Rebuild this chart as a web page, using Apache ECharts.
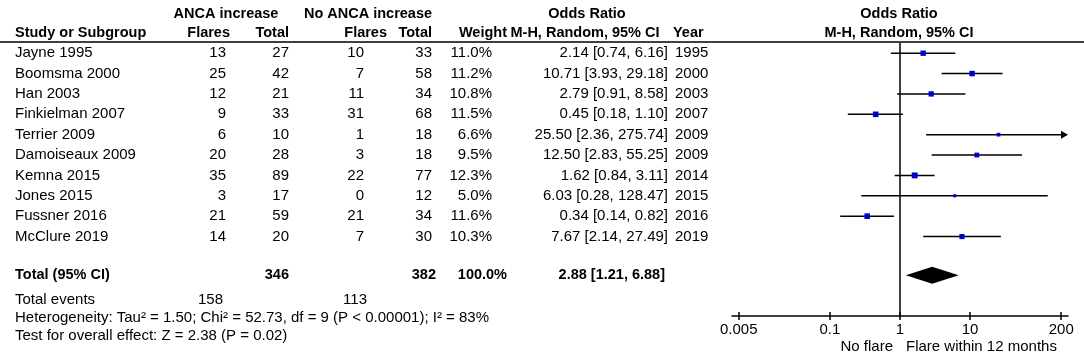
<!DOCTYPE html>
<html>
<head>
<meta charset="utf-8">
<script src="https://cdn.jsdelivr.net/npm/echarts@6/dist/echarts.min.js"></script>
<style>
  html, body { margin: 0; padding: 0; background: #fff; }
  #main { width: 1084px; height: 360px; }
</style>
</head>
<body>
<div id="main"></div>
<script>
// study rows
var studies = ['Jayne 1995', 'Boomsma 2000', 'Han 2003', 'Finkielman 2007', 'Terrier 2009',
  'Damoiseaux 2009', 'Kemna 2015', 'Jones 2015', 'Fussner 2016', 'McClure 2019'];
var ancaFlares = [13, 25, 12, 9, 6, 20, 35, 3, 21, 14];
var ancaTotal = [27, 42, 21, 33, 10, 28, 89, 17, 59, 20];
var noAncaFlares = [10, 7, 11, 31, 1, 3, 22, 0, 21, 7];
var noAncaTotal = [33, 58, 34, 68, 18, 18, 77, 12, 34, 30];
var weights = [11.0, 11.2, 10.8, 11.5, 6.6, 9.5, 12.3, 5.0, 11.6, 10.3];
var oddsRatio = [2.14, 10.71, 2.79, 0.45, 25.50, 12.50, 1.62, 6.03, 0.34, 7.67];
var ciLow = [0.74, 3.93, 0.91, 0.18, 2.36, 2.83, 0.84, 0.28, 0.14, 2.14];
var ciHigh = [6.16, 29.18, 8.58, 1.10, 275.74, 55.25, 3.11, 128.47, 0.82, 27.49];
var years = [1995, 2000, 2003, 2007, 2009, 2009, 2014, 2015, 2016, 2019];

// pooled
var totalAnca = 346;
var totalNoAnca = 382;
var totalWeight = 100.0;
var pooled = [2.88, 1.21, 6.88]; // OR, low, high
var eventsAnca = 158;
var eventsNoAnca = 113;
var heterogeneity = 'Heterogeneity: Tau² = 1.50; Chi² = 52.73, df = 9 (P < 0.00001); I² = 83%';
var overallTest = 'Test for overall effect: Z = 2.38 (P = 0.02)';

var tickValues = [0.005, 0.1, 1, 10, 200];
var axisMin = 0.004, axisMax = 250;

var FONT = 'Arial, "Liberation Sans", sans-serif';
var FS = 15;
var FSB = 14.5;
var log = Math.log10;
var tickPos = tickValues.map(log);
var totalRow = 10.9;

function fmt2(v) { return v.toFixed(2); }
function ciText(o, l, h) { return fmt2(o) + ' [' + fmt2(l) + ', ' + fmt2(h) + ']'; }

function txt(x, y, s, align, bold) {
  return {
    type: 'text', silent: true,
    style: {
      x: x, y: y, text: String(s), textAlign: align || 'left', textVerticalAlign: 'middle',
      fill: '#000', font: (bold ? 'bold ' + FSB : FS) + 'px ' + FONT
    }
  };
}

var chart = echarts.init(document.getElementById('main'));

function renderStudy(params, api) {
  var i = api.value(0);
  var y = api.coord([0, i])[1];
  var xMax = api.coord([log(axisMax), i])[0] - 1;
  var xl = api.coord([log(ciLow[i]), i])[0];
  var xh = api.coord([log(ciHigh[i]), i])[0];
  var xm = api.coord([log(oddsRatio[i]), i])[0];
  var arrow = xh > xMax;
  if (arrow) xh = xMax;
  var sz = 1.2 + 0.38 * weights[i];
  var kids = [
    { type: 'line', shape: { x1: xl, y1: y, x2: arrow ? xh - 4 : xh, y2: y }, style: { stroke: '#000', lineWidth: 1.5 } },
    { type: 'rect', shape: { x: xm - sz / 2, y: y - sz / 2, width: sz, height: sz }, style: { fill: '#0000cc' } },
    txt(15, y, studies[i]),
    txt(226, y, ancaFlares[i], 'right'),
    txt(289, y, ancaTotal[i], 'right'),
    txt(364, y, noAncaFlares[i], 'right'),
    txt(432, y, noAncaTotal[i], 'right'),
    txt(492, y, weights[i].toFixed(1) + '%', 'right'),
    txt(668, y, ciText(oddsRatio[i], ciLow[i], ciHigh[i]), 'right'),
    txt(675, y, years[i])
  ];
  if (arrow) {
    kids.push({ type: 'polygon', shape: { points: [[xh - 6, y - 4], [xh + 1, y], [xh - 6, y + 4]] }, style: { fill: '#000' } });
  }
  return { type: 'group', children: kids };
}

function renderTotal(params, api) {
  var y = api.coord([0, totalRow])[1];
  var xl = api.coord([log(pooled[1]), totalRow])[0];
  var xh = api.coord([log(pooled[2]), totalRow])[0];
  var xm = api.coord([log(pooled[0]), totalRow])[0];
  var h = 8.5;
  var yEv = api.coord([0, 12.12])[1];
  return {
    type: 'group',
    children: [
      { type: 'polygon', shape: { points: [[xl, y], [xm, y - h], [xh, y], [xm, y + h]] }, style: { fill: '#000' } },
      txt(15, y, 'Total (95% CI)', 'left', true),
      txt(289, y, totalAnca, 'right', true),
      txt(436, y, totalNoAnca, 'right', true),
      txt(507, y, totalWeight.toFixed(1) + '%', 'right', true),
      txt(665, y, ciText(pooled[0], pooled[1], pooled[2]), 'right', true),
      txt(15, yEv, 'Total events'),
      txt(223, yEv, eventsAnca, 'right'),
      txt(367, yEv, eventsNoAnca, 'right')
    ]
  };
}

var axisCommon = {
  type: 'value',
  min: log(axisMin),
  max: log(axisMax),
  position: 'bottom',
  splitLine: { show: false }
};

chart.setOption({
  animation: false,
  grid: { left: 732, right: 16, top: 43, bottom: 44 },
  xAxis: [
    Object.assign({}, axisCommon, {
      axisLine: { show: true, onZero: false, lineStyle: { color: '#000', width: 1.5 } },
      axisTick: { show: true, customValues: tickPos, length: 4, lineStyle: { color: '#000', width: 1.5 } },
      axisLabel: {
        show: true, customValues: tickPos, margin: 6, color: '#000', fontSize: FS, fontFamily: FONT,
        formatter: function (v) { return String(+Math.pow(10, v).toPrecision(3)); }
      }
    }),
    Object.assign({}, axisCommon, {
      axisLine: { show: false, onZero: false },
      axisTick: { show: true, inside: true, customValues: tickPos, length: 4, lineStyle: { color: '#000', width: 1.5 } },
      axisLabel: { show: false }
    })
  ],
  yAxis: { type: 'value', inverse: true, min: -0.5, max: 12.9, show: false },
  graphic: [
    { type: 'line', shape: { x1: 0, y1: 42, x2: 1084, y2: 42 }, style: { stroke: '#000', lineWidth: 1.5 } },
    txt(226, 14, 'ANCA increase', 'center', true),
    txt(368, 14, 'No ANCA increase', 'center', true),
    txt(587, 14, 'Odds Ratio', 'center', true),
    txt(899, 14, 'Odds Ratio', 'center', true),
    txt(15, 33, 'Study or Subgroup', 'left', true),
    txt(230, 33, 'Flares', 'right', true),
    txt(289, 33, 'Total', 'right', true),
    txt(387, 33, 'Flares', 'right', true),
    txt(432, 33, 'Total', 'right', true),
    txt(507, 33, 'Weight', 'right', true),
    txt(585, 33, 'M-H, Random, 95% CI', 'center', true),
    txt(673, 33, 'Year', 'left', true),
    txt(899, 33, 'M-H, Random, 95% CI', 'center', true),
    txt(15, 318, heterogeneity),
    txt(15, 336, overallTest),
    txt(893, 347, 'No flare', 'right'),
    txt(906, 347, 'Flare within 12 months', 'left')
  ],
  series: [
    {
      type: 'custom',
      clip: false,
      silent: true,
      renderItem: renderStudy,
      data: studies.map(function (s, i) { return [i]; }),
      encode: { x: [], y: 0 },
      markLine: {
        silent: true, symbol: 'none', label: { show: false },
        lineStyle: { color: '#000', width: 1.5, type: 'solid' },
        data: [{ xAxis: 0 }]
      }
    },
    {
      type: 'custom',
      clip: false,
      silent: true,
      renderItem: renderTotal,
      data: [[totalRow]],
      encode: { x: [], y: 0 }
    }
  ]
});
</script>
</body>
</html>
